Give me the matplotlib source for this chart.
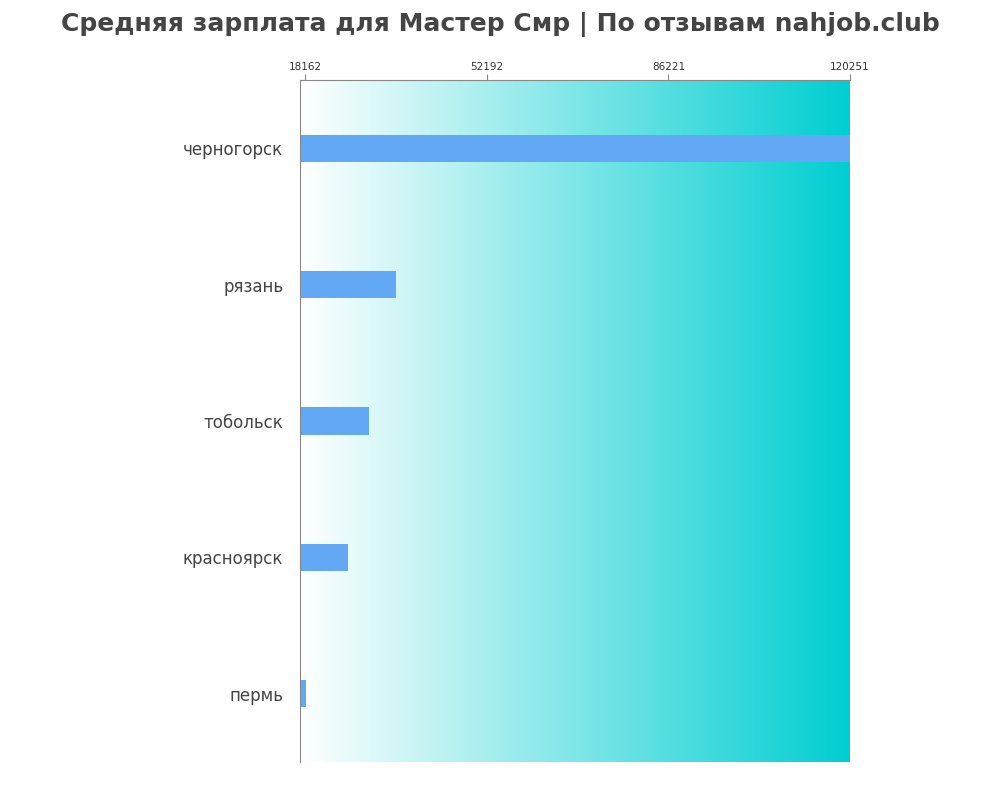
import matplotlib
matplotlib.use("Agg")
import matplotlib.pyplot as plt
import numpy as np
from matplotlib.colors import LinearSegmentedColormap

cities = ["черногорск", "рязань", "тобольск", "красноярск", "пермь"]
salaries = [120251, 35200, 30150, 26200, 18400]
ticks = [18162, 52192, 86221, 120251]
xmin = 17225

fig = plt.figure(figsize=(10, 8), dpi=100)
ax = fig.add_axes([0.300, 0.0475, 0.550, 0.8525])
cmap = LinearSegmentedColormap.from_list("g", ["#ffffff", "#00ced1"])
grad = np.linspace(0, 1, 256).reshape(1, -1)
ax.imshow(grad, aspect="auto", cmap=cmap, extent=[xmin, ticks[-1], -0.5, len(cities) - 0.5], zorder=0)
y = np.arange(len(cities))
ax.barh(y, [s - xmin for s in salaries], left=xmin, height=0.2, color="#63a8f5", zorder=2)
ax.set_xlim(xmin, ticks[-1])
ax.set_ylim(len(cities) - 0.5, -0.5)
ax.set_yticks(y)
ax.set_yticklabels(cities, fontsize=12, color="#444444")
ax.tick_params(axis="y", length=0, pad=12)
ax.xaxis.tick_top()
ax.set_xticks(ticks)
ax.set_xticklabels([str(t) for t in ticks], fontsize=7.5, color="#333333")
ax.tick_params(axis="x", length=4, color="#888888", pad=2)
for s in ["right", "bottom"]:
    ax.spines[s].set_visible(False)
ax.spines["left"].set_color("#888888")
ax.spines["top"].set_color("#888888")
fig.suptitle("Средняя зарплата для Мастер Смр | По отзывам nahjob.club", fontsize=18,
             fontweight="bold", color="#444444", y=0.985)
fig.savefig("out.png", dpi=100)
